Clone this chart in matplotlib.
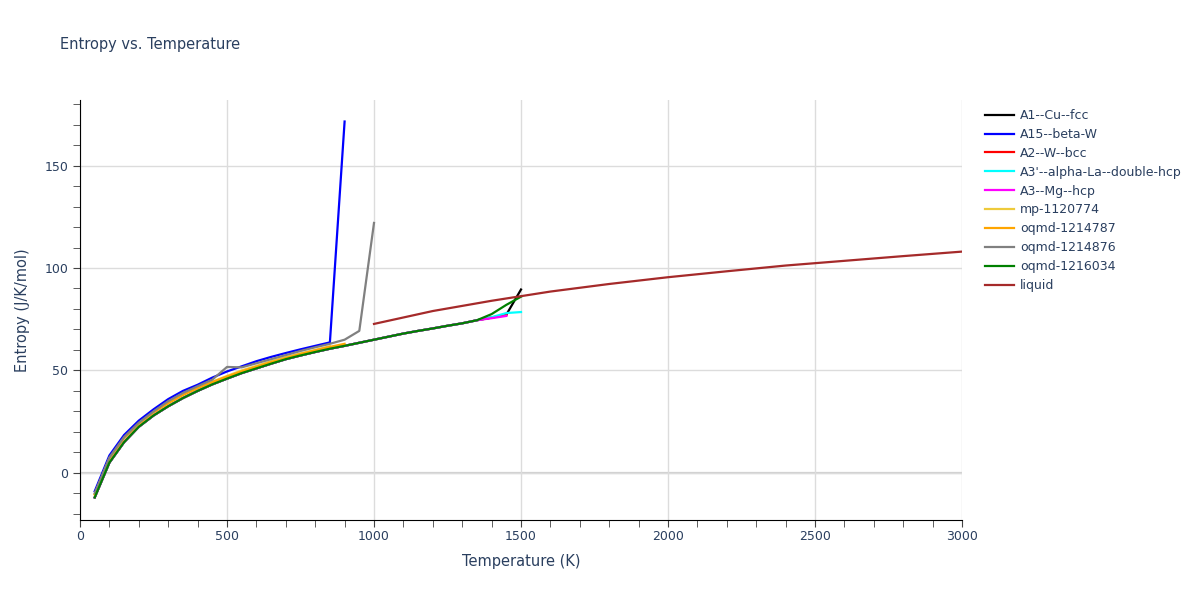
import matplotlib
matplotlib.use('Agg')
import matplotlib.pyplot as plt
from matplotlib.ticker import MultipleLocator

# temperatures (K) and entropies (J/K/mol)
t_base = [50, 100, 150, 200, 250, 300, 350, 400, 450, 500, 550, 600, 650, 700, 750, 800,
          850, 900, 950, 1000, 1050, 1100, 1150, 1200, 1250, 1300, 1350, 1400, 1450, 1500]
s_base = [-12, 5, 15, 22.5, 28, 32.5, 36.5, 40, 43.2, 46, 48.7, 51, 53.3, 55.5, 57.3, 59,
          60.6, 62, 63.5, 65, 66.5, 68, 69.3, 70.5, 71.8, 73, 74.5]

a1_t = t_base[:29] + [1500]
a1_s = s_base[:27] + [75.8, 77.2, 89.5]

a15_t = [50, 100, 150, 200, 250, 300, 350, 400, 450, 500, 550, 600, 650, 700, 750, 800, 850, 900]
a15_s = [-9, 8.5, 18.5, 25.5, 31, 36, 40, 43, 46.5, 49.5, 52, 54.5, 56.6, 58.5, 60.3, 62, 63.7, 171.5]

a2_t = t_base[:29]
a2_s = s_base[:27] + [75.8, 77.0]

a3p_t = t_base[:30]
a3p_s = s_base[:27] + [76, 78, 78.5]

a3_t = t_base[:29]
a3_s = s_base[:27] + [75.5, 76.6]

mp_t = t_base[:17]
mp_s = [-10.5, 7, 17, 24, 29.5, 34, 38, 41.5, 44.5, 47.3, 50, 52.2, 54.5, 56.5, 58.3, 60, 61.8]

oq787_t = t_base[:18]
oq787_s = [-10.5, 7, 17, 24, 29.5, 34, 38, 41.3, 44.3, 47, 49.5, 51.8, 54, 56, 58, 59.8, 61.5, 63]

oq876_t = [50, 100, 150, 200, 250, 300, 350, 400, 450, 500, 550, 600, 650, 700, 750, 800, 850,
           900, 950, 1000]
oq876_s = [-10, 7.5, 17.5, 24.5, 30, 35, 39, 42.3, 45.5, 51.7, 51.5, 53.5, 55.5, 57.5, 59.5,
           61.3, 63, 65, 69.3, 122]

oq034_t = t_base
oq034_s = s_base + [77.5, 82, 86]

liq_t = [1000, 1200, 1400, 1600, 1800, 2000, 2200, 2400, 2600, 2800, 3000]
liq_s = [72.7, 79, 84, 88.5, 92.2, 95.5, 98.4, 101.2, 103.5, 105.8, 108]

series = [
    ("A1--Cu--fcc", a1_t, a1_s, "black"),
    ("A15--beta-W", a15_t, a15_s, "blue"),
    ("A2--W--bcc", a2_t, a2_s, "red"),
    ("A3'--alpha-La--double-hcp", a3p_t, a3p_s, "cyan"),
    ("A3--Mg--hcp", a3_t, a3_s, "magenta"),
    ("mp-1120774", mp_t, mp_s, "#EECA3B"),
    ("oqmd-1214787", oq787_t, oq787_s, "orange"),
    ("oqmd-1214876", oq876_t, oq876_s, "gray"),
    ("oqmd-1216034", oq034_t, oq034_s, "green"),
    ("liquid", liq_t, liq_s, "brown"),
]

txt = "#2a3f5f"
fig = plt.figure(figsize=(12, 6), dpi=100)
ax = fig.add_axes([80/1200, 80/600, 882/1200, 420/600])

for name, t, s, c in series:
    ax.plot(t, s, color=c, lw=1.6, label=name)

ax.set_xlim(0, 3000)
ax.set_ylim(-23, 182)
ax.xaxis.set_major_locator(MultipleLocator(500))
ax.xaxis.set_minor_locator(MultipleLocator(100))
ax.yaxis.set_major_locator(MultipleLocator(50))
ax.yaxis.set_minor_locator(MultipleLocator(10))
ax.grid(True, which='major', color='#dcdcdc', lw=1)
ax.axhline(0, color='#d0d0d0', lw=1.6, zorder=0.5)
ax.set_axisbelow(True)
for sp in ['top', 'right']:
    ax.spines[sp].set_visible(False)
ax.spines['left'].set_color('black')
ax.spines['bottom'].set_color('black')
ax.tick_params(which='both', direction='out', colors='#444444', labelcolor=txt, labelsize=9)
ax.tick_params(which='both', length=5)
ax.tick_params(axis='x', which='major', pad=2)
ax.set_xlabel("Temperature (K)", color=txt, fontsize=10.5, labelpad=8)
ax.set_ylabel("Entropy (J/K/mol)", color=txt, fontsize=10.5, labelpad=10)
fig.text(60/1200, 1 - 45/600, "Entropy vs. Temperature", color=txt, fontsize=10.5, va='center')

fig.legend(loc='upper left', bbox_to_anchor=(980/1200, 1 - 104/600), frameon=False, fontsize=9,
           labelcolor=txt, handlelength=2.3, handletextpad=0.5, labelspacing=0.47,
           borderaxespad=0)

fig.savefig("out.png")
